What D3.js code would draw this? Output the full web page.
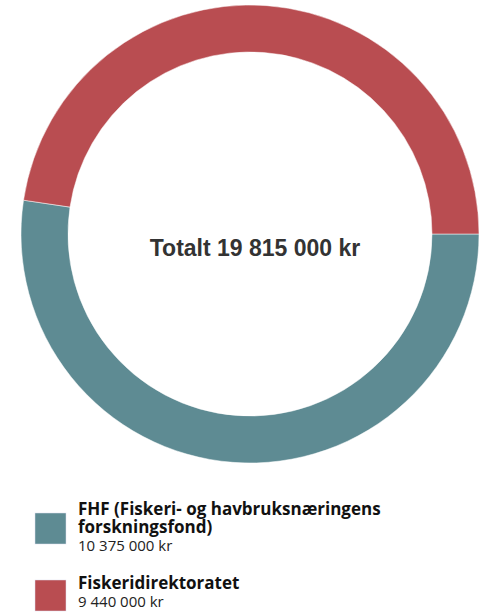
<!DOCTYPE html>
<html lang="no">
<head>
<meta charset="UTF-8" />
<title>Fordeling</title>
<style>
  body { margin: 0; background: #fff; }
  .chart { width: 487px; height: 615px; }
</style>
</head>
<body>
<div class="chart"></div>
<script src="https://d3js.org/d3.v7.min.js"></script>
<script>
// data
const labels = ['FHF (Fiskeri- og havbruksnæringens forskningsfond)', 'Fiskeridirektoratet'];
const values = [10375000, 9440000];
const colors = ['#5e8b93', '#b94d51'];
const totalLabel = 'Totalt';

const width = 487, height = 615;
const cx = 250, cy = 234, outerR = 229, innerR = 182;

const fmt = n => d3.format(',')(n).replace(/,/g, ' ') + ' kr';

const svg = d3.select('.chart')
  .append('svg')
  .attr('width', width)
  .attr('height', height);

const data = labels.map((l, i) => ({ label: l, value: values[i], color: colors[i] }));

// teal starts at 3 o'clock and goes clockwise
const pie = d3.pie()
  .value(d => d.value)
  .sort(null)
  .startAngle(Math.PI / 2)
  .endAngle(Math.PI / 2 + 2 * Math.PI);

const arc = d3.arc().innerRadius(innerR).outerRadius(outerR);

const g = svg.append('g').attr('transform', `translate(${cx},${cy})`);

g.selectAll('path')
  .data(pie(data))
  .join('path')
  .attr('d', arc)
  .attr('fill', d => d.data.color)
  .attr('stroke', '#fff')
  .attr('stroke-width', 0.5);

g.append('text')
  .attr('x', 5)
  .attr('y', 22)
  .attr('text-anchor', 'middle')
  .style('font-family', '"Liberation Sans", Arial, sans-serif')
  .style('font-weight', 'bold')
  .style('font-size', '23px')
  .style('fill', '#333')
  .text(`${totalLabel} ${fmt(d3.sum(values))}`);

// legend
const legendX = 35, textX = 78, maxW = 330;
const rowTop = [513, 580];

const legend = svg.selectAll('.legend')
  .data(data)
  .join('g')
  .attr('class', 'legend')
  .attr('transform', (d, i) => `translate(0,${rowTop[i]})`);

legend.append('rect')
  .attr('x', legendX)
  .attr('width', 31)
  .attr('height', 31)
  .attr('fill', d => d.color)
  .attr('stroke', '#dde')
  .attr('stroke-width', 0.5);

legend.each(function(d) {
  const el = d3.select(this);
  const font = '"Open Sans", "Noto Sans", sans-serif';

  // wrap label
  const probe = el.append('text')
    .style('font-family', font)
    .style('font-weight', 'bold')
    .style('font-size', '17px');
  const words = d.label.split(' ');
  let lines = [], line = [];
  words.forEach(w => {
    line.push(w);
    probe.text(line.join(' '));
    if (probe.node().getComputedTextLength() > maxW && line.length > 1) {
      line.pop();
      lines.push(line.join(' '));
      line = [w];
    }
  });
  lines.push(line.join(' '));
  probe.remove();

  const first = lines.length > 1 ? 2 : 9;
  lines.forEach((l, i) => {
    el.append('text')
      .attr('x', textX)
      .attr('y', first + i * 18)
      .style('font-family', font)
      .style('font-weight', 'bold')
      .style('font-size', '17px')
      .style('fill', '#111')
      .text(l);
  });
  el.append('text')
    .attr('x', textX)
    .attr('y', first + (lines.length - 1) * 18 + 17.5)
    .style('font-family', font)
    .style('font-size', '15px')
    .style('fill', '#222')
    .text(fmt(d.value));
});
</script>
</body>
</html>
